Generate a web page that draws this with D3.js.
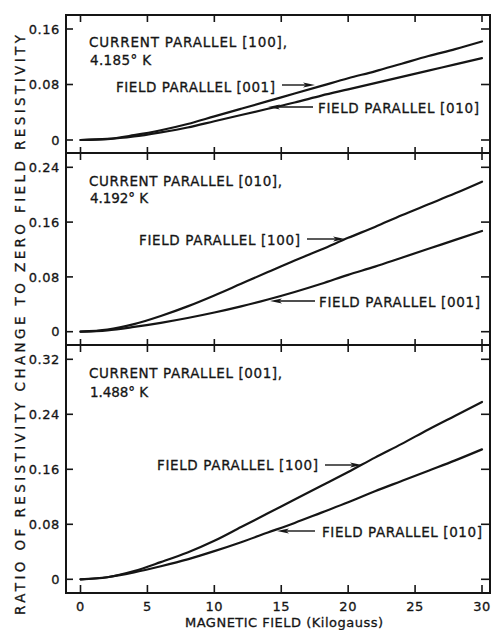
<!DOCTYPE html>
<html>
<head>
<meta charset="utf-8">
<script src="https://cdn.jsdelivr.net/npm/d3@7"></script>
<style>
  body { margin: 0; background: #fff; }
  text { font-family: "DejaVu Sans", sans-serif; fill: #151515; stroke: #151515; stroke-width: 0.3; }
</style>
</head>
<body>
<svg id="chart" width="494" height="630"></svg>
<script>
// Magnetic field values (kilogauss) at which each curve is sampled
const fieldKG = [0, 2, 4, 6, 8, 10, 12, 14, 16, 18, 20, 22, 24, 26, 28, 30];

// Current parallel [100], 4.185 K
const cur100Field001 = [0, 0.0015, 0.007, 0.014, 0.023, 0.034, 0.045, 0.056, 0.067, 0.078, 0.089, 0.099, 0.110, 0.121, 0.131, 0.142];
const cur100Field010 = [0, 0.0012, 0.005, 0.011, 0.018, 0.027, 0.036, 0.045, 0.054, 0.064, 0.073, 0.082, 0.091, 0.100, 0.109, 0.118];

// Current parallel [010], 4.192 K
const cur010Field100 = [0, 0.003, 0.011, 0.023, 0.037, 0.053, 0.070, 0.087, 0.104, 0.120, 0.137, 0.153, 0.170, 0.186, 0.202, 0.219];
const cur010Field001 = [0, 0.002, 0.007, 0.013, 0.020, 0.028, 0.037, 0.047, 0.058, 0.070, 0.083, 0.095, 0.108, 0.121, 0.134, 0.147];

// Current parallel [001], 1.488 K
const cur001Field100 = [0, 0.003, 0.012, 0.025, 0.039, 0.056, 0.076, 0.096, 0.116, 0.136, 0.156, 0.177, 0.197, 0.218, 0.238, 0.258];
const cur001Field010 = [0, 0.003, 0.010, 0.019, 0.029, 0.041, 0.054, 0.068, 0.082, 0.097, 0.112, 0.128, 0.143, 0.158, 0.173, 0.189];

// Tick values
const xTicks = [0, 5, 10, 15, 20, 25, 30];
const yTicksTop = [0, 0.08, 0.16];
const yTicksMid = [0, 0.08, 0.16, 0.24];
const yTicksBot = [0, 0.08, 0.16, 0.24, 0.32];

// Panel texts
const currentTitles = ["CURRENT PARALLEL [100],", "CURRENT PARALLEL [010],", "CURRENT PARALLEL [001],"];
const temperatures = ["4.185\u00B0 K", "4.192\u00B0 K", "1.488\u00B0 K"];
const fieldLabelsUpper = ["FIELD PARALLEL [001]", "FIELD PARALLEL [100]", "FIELD PARALLEL [100]"];
const fieldLabelsLower = ["FIELD PARALLEL [010]", "FIELD PARALLEL [001]", "FIELD PARALLEL [010]"];
const xTitle = "MAGNETIC FIELD (Kilogauss)";
const yTitle = "RATIO OF RESISTIVITY CHANGE TO ZERO FIELD RESISTIVITY";

// ---- layout ----
const frameLeft = 66, frameRight = 490;
const x = d3.scaleLinear().domain([0, 30]).range([80.5, 482]);

const panels = [
  { top: 15,  bottom: 153, zeroPx: 140,   maxPx: 29,    ticks: yTicksTop, series: [cur100Field001, cur100Field010],
    titleY: 47, tempY: 65, titleLen: 198, tempLen: 61,
    upper: { x: 116, y: 92, len: 159, arrow: [282, 315, 85] },
    lower: { x: 318, y: 113, len: 161, arrow: [313, 268, 107] } },
  { top: 153, bottom: 345, zeroPx: 331.7, maxPx: 167.3, ticks: yTicksMid, series: [cur010Field100, cur010Field001],
    titleY: 186, tempY: 203, titleLen: 193, tempLen: 58,
    upper: { x: 139, y: 245, len: 161, arrow: [307, 345, 239] },
    lower: { x: 319, y: 307, len: 161, arrow: [315, 270, 301] } },
  { top: 345, bottom: 593, zeroPx: 579.3, maxPx: 359.3, ticks: yTicksBot, series: [cur001Field100, cur001Field010],
    titleY: 378, tempY: 397, titleLen: 193, tempLen: 58,
    upper: { x: 157, y: 470, len: 161, arrow: [325, 362, 465] },
    lower: { x: 322, y: 537, len: 160, arrow: [315, 277, 531] } }
];

const svg = d3.select("#chart");
const ink = "#151515";
const fmt = v => v === 0 ? "0" : v.toFixed(2);

function arrow(g, x1, x2, y) {
  const dir = Math.sign(x2 - x1);
  const headLen = 12, half = 2.6;
  g.append("line").attr("x1", x1).attr("y1", y).attr("x2", x2 - dir * headLen * 0.6).attr("y2", y)
    .attr("stroke", ink).attr("stroke-width", 1.4);
  g.append("path")
    .attr("d", `M${x2},${y} L${x2 - dir * headLen},${y - half} L${x2 - dir * headLen * 0.75},${y} L${x2 - dir * headLen},${y + half} Z`)
    .attr("fill", ink);
}

panels.forEach((p, i) => {
  const y = d3.scaleLinear().domain([0, p.ticks[p.ticks.length - 1]]).range([p.zeroPx, p.maxPx]);
  const g = svg.append("g");

  // y ticks, left (inward) and right (inward)
  p.ticks.forEach(t => {
    const yy = y(t);
    g.append("line").attr("x1", frameLeft).attr("x2", frameLeft + 7).attr("y1", yy).attr("y2", yy)
      .attr("stroke", ink).attr("stroke-width", 1.6);
    g.append("line").attr("x1", frameRight - 9).attr("x2", frameRight).attr("y1", yy).attr("y2", yy)
      .attr("stroke", ink).attr("stroke-width", 1.6);
    g.append("text").attr("x", 60).attr("y", yy).attr("dy", "0.36em").attr("text-anchor", "end")
      .attr("font-size", 13).attr("letter-spacing", 0.6).text(fmt(t));
  });

  // x ticks on the panel's top edge
  xTicks.forEach(t => {
    const xx = x(t);
    const down = i === 0 ? 0 : 6;
    g.append("line").attr("x1", xx).attr("x2", xx).attr("y1", p.top - down).attr("y2", p.top + 7)
      .attr("stroke", ink).attr("stroke-width", 1.6);
  });

  // curves
  const line = d3.line().x((d, k) => x(fieldKG[k])).y(d => y(d)).curve(d3.curveMonotoneX);
  p.series.forEach(s => {
    g.append("path").datum(s).attr("d", line).attr("fill", "none")
      .attr("stroke", ink).attr("stroke-width", 2.2).attr("stroke-linecap", "round");
  });

  // annotations
  g.append("text").attr("x", 89).attr("y", p.titleY).attr("font-size", 13.5)
    .attr("textLength", p.titleLen).attr("lengthAdjust", "spacing").text(currentTitles[i]);
  g.append("text").attr("x", 90).attr("y", p.tempY).attr("font-size", 13.5)
    .attr("textLength", p.tempLen).attr("lengthAdjust", "spacing").text(temperatures[i]);
  g.append("text").attr("x", p.upper.x).attr("y", p.upper.y).attr("font-size", 13.5)
    .attr("textLength", p.upper.len).attr("lengthAdjust", "spacing").text(fieldLabelsUpper[i]);
  g.append("text").attr("x", p.lower.x).attr("y", p.lower.y).attr("font-size", 13.5)
    .attr("textLength", p.lower.len).attr("lengthAdjust", "spacing").text(fieldLabelsLower[i]);
  arrow(g, ...p.upper.arrow);
  arrow(g, ...p.lower.arrow);
});

// bottom x ticks and labels
const last = panels[panels.length - 1];
xTicks.forEach(t => {
  svg.append("line").attr("x1", x(t)).attr("x2", x(t)).attr("y1", last.bottom - 8).attr("y2", last.bottom)
    .attr("stroke", ink).attr("stroke-width", 1.6);
  svg.append("text").attr("x", x(t)).attr("y", 611).attr("text-anchor", "middle")
    .attr("font-size", 13).attr("letter-spacing", 0.6).text(t);
});

// frame: outer box and panel separators
const frame = svg.append("g").attr("stroke", ink).attr("stroke-width", 2).attr("fill", "none");
frame.append("rect").attr("x", frameLeft).attr("y", panels[0].top)
  .attr("width", frameRight - frameLeft).attr("height", last.bottom - panels[0].top);
panels.slice(1).forEach(p => {
  frame.append("line").attr("x1", frameLeft).attr("x2", frameRight).attr("y1", p.top).attr("y2", p.top);
});

// axis titles
svg.append("text").attr("x", 185).attr("y", 627).attr("font-size", 13)
  .attr("textLength", 198).attr("lengthAdjust", "spacing").text(xTitle);
svg.append("text").attr("transform", "translate(25,615) rotate(-90)").attr("font-size", 13.5)
  .attr("textLength", 580).attr("lengthAdjust", "spacing").text(yTitle);
</script>
</body>
</html>
